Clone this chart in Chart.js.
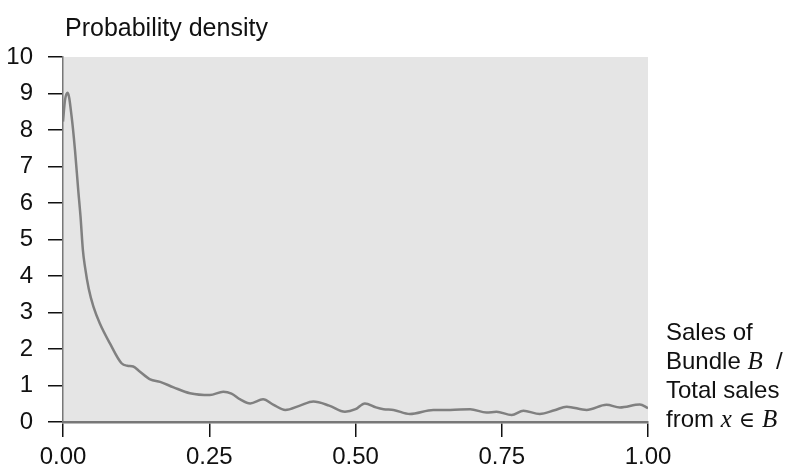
<!DOCTYPE html>
<html>
<head>
<meta charset="utf-8">
<script src="https://cdn.jsdelivr.net/npm/chart.js@4"></script>
<style>
  html, body { margin: 0; padding: 0; background: #fff; }
  #wrap { width: 785px; height: 470px; position: relative; }
</style>
</head>
<body>
<div id="wrap"><canvas id="densityChart" width="785" height="470"></canvas></div>
<script>
// share of bundle sales vs. estimated density
const shareX = [0, 0.0034, 0.008, 0.0148, 0.0205, 0.026, 0.030, 0.034, 0.0376, 0.044, 0.052, 0.063,
  0.080, 0.100, 0.110, 0.120, 0.130, 0.149, 0.166, 0.189, 0.217, 0.251, 0.274, 0.288, 0.303, 0.320,
  0.342, 0.360, 0.380, 0.405, 0.428, 0.455, 0.482, 0.500, 0.516, 0.535, 0.548, 0.565, 0.593, 0.633,
  0.662, 0.696, 0.724, 0.741, 0.767, 0.787, 0.815, 0.840, 0.861, 0.895, 0.929, 0.952, 0.986, 1.0];
const densityY = [8.23, 8.82, 9.02, 8.36, 7.45, 6.36, 5.62, 4.71, 4.25, 3.65, 3.16, 2.70,
  2.16, 1.61, 1.54, 1.52, 1.40, 1.17, 1.10, 0.95, 0.79, 0.74, 0.83, 0.78, 0.62, 0.51,
  0.62, 0.47, 0.33, 0.45, 0.56, 0.45, 0.28, 0.35, 0.51, 0.40, 0.35, 0.33, 0.22, 0.33,
  0.33, 0.35, 0.26, 0.28, 0.19, 0.31, 0.22, 0.32, 0.42, 0.33, 0.47, 0.40, 0.48, 0.38];
const xTicks = [0, 0.25, 0.5, 0.75, 1];
const yTicks = [0, 1, 2, 3, 4, 5, 6, 7, 8, 9, 10];

const FONT = "'Liberation Sans', Arial, sans-serif";
const SANS = "24px " + FONT;
const MATH = "italic 25px 'Liberation Serif', serif";

const points = shareX.map((x, i) => ({ x: x, y: densityY[i] }));

// grey panel behind the curve
const panelBg = {
  id: "panelBg",
  beforeDraw(chart) {
    const a = chart.chartArea, c = chart.ctx;
    c.save();
    c.fillStyle = "#e5e5e5";
    c.fillRect(a.left, a.top, a.right - a.left, a.bottom - a.top);
    c.restore();
  }
};

// axis titles: y on top, x as a stacked label right of the panel
const axisTitles = {
  id: "axisTitles",
  afterDraw(chart) {
    const c = chart.ctx;
    c.save();
    c.fillStyle = "#111";
    c.textBaseline = "alphabetic";
    c.font = "25px " + FONT;
    c.fillText("Probability density", 65, 36);

    const lines = [
      [["Sales of", SANS]],
      [["Bundle ", SANS], ["B", MATH], ["  /", SANS]],
      [["Total sales", SANS]],
      [["from ", SANS], ["x", MATH], [" \u2208 ", "22px 'DejaVu Serif', serif"], ["B", MATH]]
    ];
    let y = 340;
    lines.forEach(parts => {
      let x = 666;
      parts.forEach(([t, f]) => {
        c.font = f;
        c.fillText(t, x, y);
        x += c.measureText(t).width;
      });
      y += 29;
    });
    c.restore();
  }
};

new Chart(document.getElementById("densityChart"), {
  type: "scatter",
  data: {
    datasets: [{
      data: points,
      showLine: true,
      borderColor: "#808080",
      borderWidth: 2.5,
      pointRadius: 0,
      cubicInterpolationMode: "monotone",
      fill: false
    }]
  },
  options: {
    responsive: false,
    animation: false,
    layout: { padding: { top: 57, right: 137, left: 0, bottom: 0 } },
    plugins: { legend: { display: false }, tooltip: { enabled: false } },
    scales: {
      x: {
        type: "linear",
        min: 0, max: 1,
        afterBuildTicks: s => { s.ticks = xTicks.map(v => ({ value: v })); },
        afterFit: s => { s.height = 48; },
        ticks: {
          color: "#111",
          font: { family: FONT, size: 24 },
          padding: 6,
          maxRotation: 0,
          callback: v => v.toFixed(2)
        },
        grid: { drawOnChartArea: false, drawTicks: true, tickLength: 15, color: "#111", lineWidth: 1.5 },
        border: { display: true, color: "#777", width: 2.5 }
      },
      y: {
        min: 0, max: 10,
        afterBuildTicks: s => { s.ticks = yTicks.map(v => ({ value: v })); },
        afterFit: s => { s.width = 63; },
        ticks: {
          color: "#111",
          font: { family: FONT, size: 24 },
          padding: 15
        },
        grid: { drawOnChartArea: false, drawTicks: true, tickLength: 15, color: "#111", lineWidth: 1.5 },
        border: { display: true, color: "#777", width: 1.5, dash: [4, 3] }
      }
    }
  },
  plugins: [panelBg, axisTitles]
});
</script>
</body>
</html>
